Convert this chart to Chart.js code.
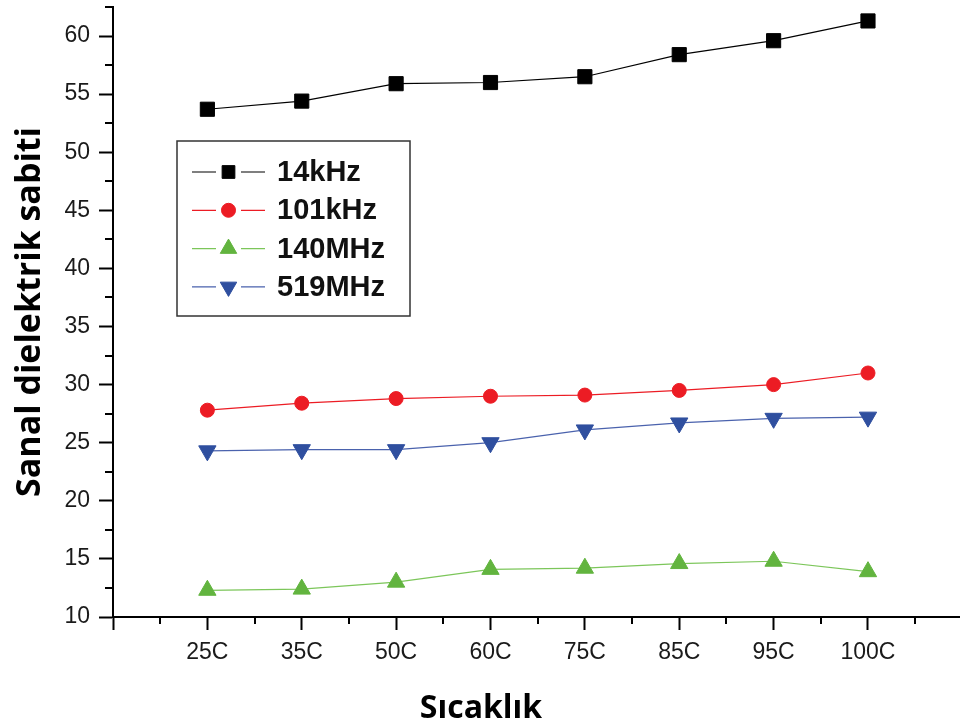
<!DOCTYPE html>
<html>
<head>
<meta charset="utf-8">
<script src="https://cdn.jsdelivr.net/npm/chart.js@4"></script>
<style>
  html, body { margin: 0; padding: 0; background: #fff; }
  #wrap { width: 960px; height: 728px; }
</style>
</head>
<body>
<div id="wrap"><canvas id="dielChart"></canvas></div>
<script>
// veriler
var temps = ['25C', '35C', '50C', '60C', '75C', '85C', '95C', '100C'];
var seriesNames = ['14kHz', '101kHz', '140MHz', '519MHz'];
var v14kHz = [53.7, 54.4, 55.9, 56.0, 56.5, 58.4, 59.6, 61.3];
var v101kHz = [27.8, 28.4, 28.8, 29.0, 29.1, 29.5, 30.0, 31.0];
var v140MHz = [12.3, 12.4, 13.0, 14.1, 14.2, 14.6, 14.8, 13.9];
var v519MHz = [24.3, 24.4, 24.4, 25.0, 26.1, 26.7, 27.1, 27.2];
var yTicks = [10, 15, 20, 25, 30, 35, 40, 45, 50, 55, 60];
var xTitle = 'Sıcaklık';

document.addEventListener("DOMContentLoaded", function() {
    var ctx = document.getElementById('dielChart').getContext('2d');

    function pts(arr) {
        return arr.map((v, i) => ({ x: i + 1, y: v }));
    }

    function makeSet(label, data, color, lineColor, style, rot, radius) {
        return {
            label: label,
            data: pts(data),
            borderColor: lineColor,
            backgroundColor: color,
            pointBackgroundColor: color,
            pointBorderColor: color,
            pointBorderWidth: 1,
            borderWidth: 1.2,
            pointStyle: style,
            pointRotation: rot,
            pointRadius: radius,
            tension: 0
        };
    }

    // küçük tik işaretleri + x ekseni başlığı (sayfa ortasında)
    var minorTicks = {
        id: 'minorTicks',
        afterDraw(chart) {
            var c = chart.ctx, xs = chart.scales.x, ys = chart.scales.y;
            c.save();
            c.strokeStyle = '#000';
            c.lineWidth = 2;
            c.beginPath();
            for (var v = 0.5; v < xs.max; v += 1) {
                var px = Math.round(xs.getPixelForValue(v));
                c.moveTo(px, ys.bottom);
                c.lineTo(px, ys.bottom + 7);
            }
            for (var w = 12.5; w <= ys.max; w += 5) {
                var py = Math.round(ys.getPixelForValue(w));
                c.moveTo(xs.left, py);
                c.lineTo(xs.left - 8, py);
            }
            c.stroke();

            c.fillStyle = '#000';
            c.font = 'bold 32px "Open Sans", sans-serif';
            c.textAlign = 'center';
            c.textBaseline = 'middle';
            c.fillText(xTitle, chart.width / 2 + 1, chart.height - 19);
            c.restore();
        }
    };

    // Origin tarzı lejant kutusu
    var boxLegend = {
        id: 'boxLegend',
        afterDraw(chart) {
            var c = chart.ctx;
            var bx = 177, by = 141, bw = 233, bh = 175;
            c.save();
            c.strokeStyle = '#333';
            c.lineWidth = 1.5;
            c.strokeRect(bx, by, bw, bh);
            chart.data.datasets.forEach((ds, i) => {
                var y = 172 + i * 38.3;
                c.strokeStyle = ds.borderColor;
                c.lineWidth = 1.2;
                c.beginPath();
                c.moveTo(192, y); c.lineTo(216, y);
                c.moveTo(241, y); c.lineTo(265, y);
                c.stroke();
                c.fillStyle = ds.pointBackgroundColor;
                c.strokeStyle = ds.pointBorderColor;
                c.lineWidth = 1;
                Chart.helpers.drawPoint(c, {
                    pointStyle: ds.pointStyle,
                    rotation: ds.pointRotation,
                    radius: ds.pointStyle === 'rect' ? 9 : (ds.pointStyle === 'circle' ? 7 : 9.5),
                    borderWidth: 1
                }, 228.5, y);
                c.fillStyle = '#111';
                c.font = 'bold 29px "Liberation Sans", Arial, sans-serif';
                c.textBaseline = 'middle';
                c.textAlign = 'left';
                c.fillText(ds.label, 277, y + 1);
            });
            c.restore();
        }
    };

    var tickFont = { family: '"Liberation Sans", Arial, sans-serif', size: 23 };

    new Chart(ctx, {
        type: 'line',
        data: {
            datasets: [
                makeSet(seriesNames[0], v14kHz, '#000000', '#000000', 'rect', 0, 10),
                makeSet(seriesNames[1], v101kHz, '#ec1c24', '#ec1c24', 'circle', 0, 7),
                makeSet(seriesNames[2], v140MHz, '#62b43f', '#7cc65a', 'triangle', 0, 10),
                makeSet(seriesNames[3], v519MHz, '#2f4f9f', '#4a62ad', 'triangle', 180, 10)
            ]
        },
        options: {
            responsive: true,
            maintainAspectRatio: false,
            animation: false,
            layout: { autoPadding: false, padding: { left: 10, top: 7, right: 0, bottom: 0 } },
            scales: {
                x: {
                    type: 'linear',
                    min: 0,
                    max: 8.975,
                    afterFit: function(scale) {
                        scale.height = 111;
                        scale.paddingLeft = 0;
                        scale.paddingRight = 0;
                    },
                    grid: { drawOnChartArea: false, tickLength: 13, tickWidth: 2, tickColor: '#000' },
                    border: { color: '#000', width: 2 },
                    ticks: {
                        stepSize: 1,
                        includeBounds: false,
                        autoSkip: false,
                        maxRotation: 0,
                        padding: 9,
                        color: '#1a1a1a',
                        font: tickFont,
                        callback: function(value) {
                            return temps[value - 1] || '';
                        }
                    }
                },
                y: {
                    min: 10,
                    max: 62.5,
                    afterFit: function(scale) {
                        scale.width = 103;
                        scale.paddingTop = 0;
                        scale.paddingBottom = 0;
                    },
                    grid: { drawOnChartArea: false, tickLength: 14, tickWidth: 2, tickColor: '#000' },
                    border: { color: '#000', width: 2 },
                    afterBuildTicks: function(scale) {
                        scale.ticks = yTicks.map(v => ({ value: v }));
                    },
                    ticks: {
                        padding: 9,
                        color: '#1a1a1a',
                        font: tickFont
                    },
                    title: {
                        display: true,
                        text: 'Sanal dielektrik sabiti',
                        color: '#000',
                        font: { family: '"Open Sans", sans-serif', size: 34, weight: 'bold' },
                        padding: 0
                    }
                }
            },
            plugins: {
                legend: { display: false },
                tooltip: { enabled: false }
            }
        },
        plugins: [minorTicks, boxLegend]
    });
});
</script>
</body>
</html>
